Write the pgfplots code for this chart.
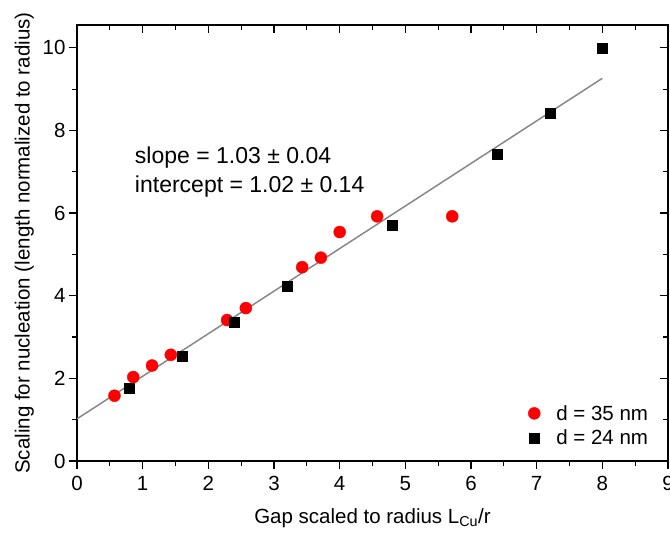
\documentclass[border=0pt]{standalone}
\usepackage{pgfplots}
\pgfplotsset{compat=1.18}
\usepackage{fontspec}
\setmainfont{Liberation Sans}
\definecolor{fitgray}{RGB}{136,136,136}
\pgfplotstableread{
x y
0.571 1.58
0.857 2.03
1.143 2.31
1.429 2.57
2.286 3.41
2.571 3.70
3.429 4.69
3.714 4.92
4.000 5.54
4.571 5.92
5.714 5.92
}\redtab
\pgfplotstableread{
x y
0.8 1.76
1.6 2.53
2.4 3.37
3.2 4.22
4.8 5.70
6.4 7.42
7.2 8.42
8.0 9.98
}\blacktab
\pgfplotstableread{
x y
0 1.02
8 9.26
}\fittab
\begin{document}
\begin{tikzpicture}
\useasboundingbox (-77pt,-77pt) rectangle (593pt,461pt);
\pgfplotsset{
  common/.style={
    scale only axis, width=591pt, height=436pt,
    at={(0pt,0pt)}, anchor=south west,
    xmin=0, xmax=9, ymin=0, ymax=10.55,
    xtick={0,1,...,9}, ytick={0,2,...,10},
    minor x tick num=1, minor y tick num=1,
    major tick length=8pt, minor tick length=5pt,
    every tick/.style={black, line width=1.1pt},
    axis line style={line width=1.3pt},
  }
}
\begin{axis}[common,
  tick align=inside, xtick pos=right, ytick pos=right,
  xticklabels={}, yticklabels={}]
\end{axis}
\begin{axis}[common,
  tick align=outside, xtick pos=left, ytick pos=left,
  /pgf/number format/assume math mode=true,
  tick label style={font=\fontsize{20.5}{24}\selectfont},
  xticklabel style={yshift=-4pt},
  label style={font=\fontsize{20.5}{24}\selectfont},
  xlabel={Gap scaled to radius L\textsubscript{Cu}/r},
  ylabel={Scaling for nucleation (length normalized to radius)},
  xlabel style={yshift=-11pt},
  ylabel style={yshift=2pt},
  legend style={at={(0.975,0.025)}, anchor=south east, draw=none, fill=none,
    font=\fontsize{20.5}{24}\selectfont, row sep=4pt,
    /tikz/every odd column/.append style={column sep=14pt}},
  legend cell align=left,
]
\addplot[color=fitgray, line width=1.5pt, forget plot] table {\fittab};
\addplot[only marks, mark=*, mark size=6pt, color=red, draw=none] table {\redtab};
\addlegendentry{d = 35 nm}
\addplot[only marks, mark=square*, mark size=5pt, color=black] table {\blacktab};
\addlegendentry{d = 24 nm}
\node[anchor=west, inner sep=0pt, font=\fontsize{23}{27}\selectfont] at (axis cs:0.88,7.34) {slope = 1.03 ± 0.04};
\node[anchor=west, inner sep=0pt, font=\fontsize{23}{27}\selectfont] at (axis cs:0.88,6.64) {intercept = 1.02 ± 0.14};
\end{axis}
\end{tikzpicture}
\end{document}
